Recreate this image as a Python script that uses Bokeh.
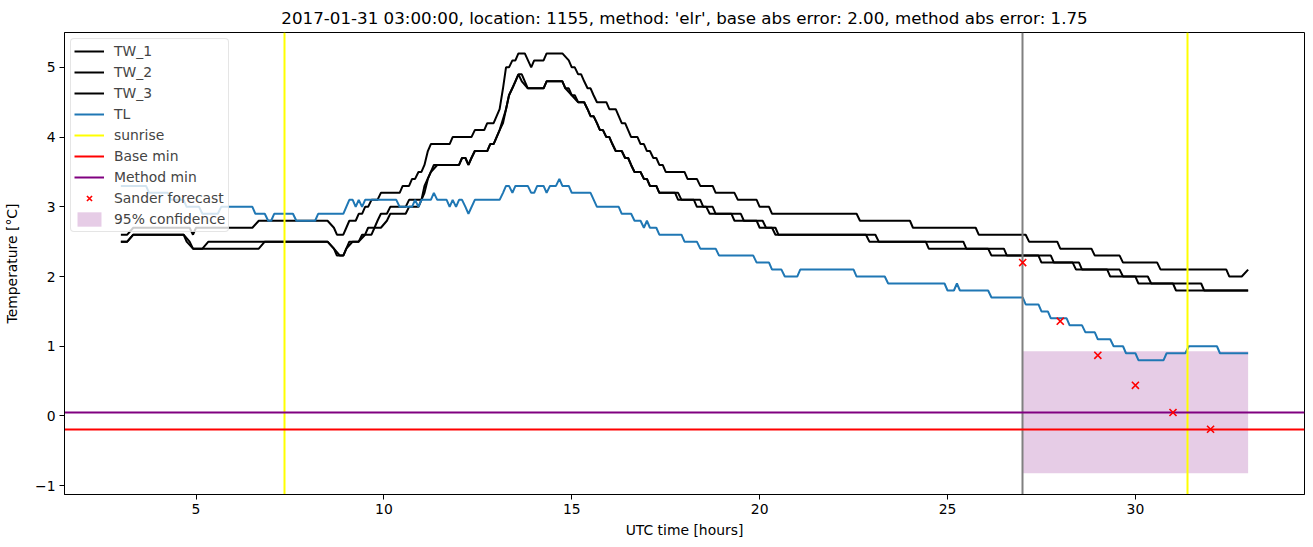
from bokeh.plotting import figure
from bokeh.models import Legend, LegendItem, FixedTicker, Range1d
from bokeh.embed import file_html
from bokeh.resources import INLINE

TITLE = "2017-01-31 03:00:00, location: 1155, method: 'elr', base abs error: 2.00, method abs error: 1.75"

# (hour, temperature) corner points of each series
tw1 = [(3.0,2.6),(3.17,2.6),(3.33,2.7),(4.83,2.7),(4.92,2.6),(5.0,2.7),(6.5,2.7),(6.67,2.8),(8.5,2.8),(8.67,2.7),
       (8.75,2.6),(8.92,2.6),(9.0,2.7),(9.08,2.8),(9.25,2.8),(9.33,2.9),(9.42,2.9),(9.5,3.0),(9.58,3.0),(9.67,3.1),
       (9.83,3.1),(9.92,3.2),(10.42,3.2),(10.5,3.3),(10.67,3.3),(10.75,3.4),(10.83,3.4),(10.92,3.5),(11.0,3.5),(11.08,3.6),
       (11.17,3.8),(11.25,3.9),(11.75,3.9),(11.83,4.0),(12.33,4.0),(12.42,4.1),(12.67,4.1),(12.75,4.2),(12.92,4.2),(13.0,4.3),
       (13.08,4.4),(13.17,4.7),(13.25,5.0),(13.33,5.0),(13.42,5.1),(13.5,5.1),(13.58,5.2),(13.75,5.2),(13.92,5.0),(14.0,5.1),
       (14.25,5.1),(14.33,5.2),(14.75,5.2),(14.92,5.1),(15.0,5.0),(15.08,5.0),(15.17,4.9),(15.25,4.9),(15.33,4.8),(15.42,4.7),
       (15.5,4.7),(15.58,4.6),(15.67,4.5),(15.92,4.5),(16.0,4.4),(16.17,4.4),(16.25,4.3),(16.33,4.2),(16.42,4.2),(16.5,4.1),
       (16.58,4.0),(16.75,4.0),(16.83,3.9),(16.92,3.9),(17.0,3.8),(17.08,3.8),(17.17,3.7),(17.25,3.7),(17.33,3.6),(17.42,3.6),
       (17.5,3.5),(18.0,3.5),(18.08,3.4),(18.33,3.4),(18.42,3.3),(18.75,3.3),(18.83,3.2),(19.33,3.2),(19.42,3.1),(19.92,3.1),
       (20.0,3.0),(20.25,3.0),(20.33,2.9),(22.58,2.9),(22.67,2.8),(24.0,2.8),(24.08,2.7),(25.75,2.7),(25.83,2.6),(27.08,2.6),
       (27.17,2.5),(27.92,2.5),(28.0,2.4),(28.83,2.4),(28.92,2.3),(29.58,2.3),(29.67,2.2),(30.58,2.2),(30.67,2.1),(32.42,2.1),
       (32.5,2.0),(32.83,2.0),(33.0,2.1)]

tw2 = [(3.0,2.5),(3.17,2.5),(3.33,2.6),(4.67,2.6),(4.83,2.5),(4.92,2.4),(5.17,2.4),(5.33,2.5),(8.5,2.5),(8.67,2.4),
       (8.75,2.3),(8.92,2.3),(9.0,2.4),(9.08,2.5),(9.33,2.5),(9.42,2.6),(9.5,2.6),(9.58,2.7),(9.75,2.7),(9.83,2.8),
       (9.92,2.9),(10.08,2.9),(10.17,3.0),(10.58,3.0),(10.67,3.1),(11.0,3.1),(11.08,3.2),(11.17,3.4),(11.25,3.5),(11.33,3.6),
       (12.0,3.6),(12.08,3.7),(12.17,3.7),(12.25,3.6),(12.33,3.7),(12.42,3.8),(12.75,3.8),(12.83,3.9),(12.92,3.9),(13.0,4.0),
       (13.08,4.1),(13.25,4.4),(13.33,4.6),(13.42,4.7),(13.5,4.8),(13.58,4.9),(13.67,4.9),(13.75,4.8),(13.83,4.7),(14.25,4.7),
       (14.33,4.8),(14.75,4.8),(14.83,4.7),(15.0,4.6),(15.08,4.6),(15.17,4.5),(15.33,4.5),(15.42,4.4),(15.5,4.3),(15.58,4.3),
       (15.67,4.2),(15.75,4.1),(15.83,4.1),(15.92,4.0),(16.0,4.0),(16.08,3.9),(16.17,3.8),(16.33,3.8),(16.42,3.7),(16.5,3.7),
       (16.58,3.6),(16.67,3.5),(16.83,3.5),(16.92,3.4),(17.0,3.4),(17.08,3.3),(17.25,3.3),(17.33,3.2),(17.75,3.2),(17.83,3.1),
       (18.25,3.1),(18.33,3.0),(18.58,3.0),(18.67,2.9),(19.25,2.9),(19.33,2.8),(19.92,2.8),(20.0,2.7),(20.33,2.7),(20.42,2.6),
       (22.83,2.6),(22.92,2.5),(24.42,2.5),(24.5,2.4),(26.08,2.4),(26.17,2.3),(27.42,2.3),(27.5,2.2),(28.5,2.2),(28.58,2.1),
       (29.25,2.1),(29.33,2.0),(30.0,2.0),(30.08,1.9),(31.0,1.9),(31.08,1.8),(33.0,1.8)]

tw3 = [(3.0,2.5),(3.17,2.5),(3.33,2.6),(4.67,2.6),(4.75,2.5),(4.92,2.4),(6.67,2.4),(6.83,2.5),(8.5,2.5),(8.67,2.4),
       (8.83,2.3),(8.92,2.3),(9.0,2.4),(9.17,2.5),(9.33,2.5),(9.5,2.6),(9.67,2.6),(9.75,2.7),(9.92,2.7),(10.08,2.8),
       (10.17,2.9),(10.58,2.9),(10.67,3.0),(10.92,3.0),(11.0,3.1),(11.08,3.3),(11.25,3.5),(11.42,3.6),(12.0,3.6),(12.08,3.7),
       (12.17,3.7),(12.25,3.6),(12.33,3.7),(12.42,3.8),(12.75,3.8),(12.83,3.9),(12.92,3.9),(13.0,4.0),(13.08,4.1),(13.17,4.2),
       (13.25,4.4),(13.33,4.6),(13.5,4.8),(13.58,4.9),(13.67,4.8),(13.83,4.7),(14.25,4.7),(14.33,4.8),(14.75,4.8),(14.83,4.7),
       (14.92,4.7),(15.0,4.6),(15.17,4.5),(15.33,4.5),(15.42,4.4),(15.5,4.3),(15.58,4.3),(15.67,4.2),(15.75,4.1),(15.83,4.1),
       (15.92,4.0),(16.0,4.0),(16.08,3.9),(16.17,3.8),(16.33,3.8),(16.42,3.7),(16.5,3.7),(16.58,3.6),(16.67,3.5),(16.83,3.5),
       (16.92,3.4),(17.0,3.4),(17.08,3.3),(17.25,3.3),(17.33,3.2),(17.83,3.2),(17.92,3.1),(18.42,3.1),(18.5,3.0),(18.75,3.0),
       (18.83,2.9),(19.5,2.9),(19.58,2.8),(20.08,2.8),(20.17,2.7),(20.42,2.7),(20.5,2.6),(23.08,2.6),(23.17,2.5),(25.42,2.5),
       (25.5,2.4),(26.5,2.4),(26.58,2.3),(27.75,2.3),(27.83,2.2),(28.33,2.2),(28.42,2.1),(29.58,2.1),(29.67,2.0),(30.33,2.0),
       (30.42,1.9),(31.75,1.9),(31.83,1.8),(33.0,1.8)]

tl = [(3.0,3.3),(3.67,3.3),(3.75,3.2),(4.25,3.2),(4.33,3.1),(4.67,3.1),(4.75,3.0),(5.08,3.0),(5.17,2.9),(5.58,2.9),
      (5.67,3.0),(6.5,3.0),(6.58,2.9),(6.83,2.9),(6.92,2.8),(7.0,2.8),(7.08,2.9),(7.58,2.9),(7.67,2.8),(8.17,2.8),
      (8.25,2.9),(8.92,2.9),(9.0,3.0),(9.08,3.1),(9.17,3.1),(9.25,3.0),(9.33,3.1),(9.42,3.0),(9.5,3.1),(10.33,3.1),
      (10.42,3.0),(10.75,3.0),(10.83,3.1),(10.92,3.0),(11.0,3.1),(11.25,3.1),(11.33,3.2),(11.42,3.1),(11.67,3.1),(11.75,3.0),
      (11.83,3.1),(11.92,3.0),(12.0,3.1),(12.08,3.1),(12.17,3.0),(12.25,2.9),(12.42,3.1),(13.08,3.1),(13.17,3.2),(13.25,3.3),
      (13.33,3.3),(13.42,3.2),(13.5,3.3),(13.83,3.3),(13.92,3.2),(14.0,3.2),(14.08,3.3),(14.25,3.3),(14.33,3.2),(14.42,3.3),
      (14.58,3.3),(14.67,3.4),(14.75,3.3),(14.92,3.3),(15.0,3.2),(15.5,3.2),(15.67,3.0),(16.25,3.0),(16.33,2.9),(16.58,2.9),
      (16.67,2.8),(16.83,2.8),(16.92,2.7),(17.0,2.8),(17.08,2.7),(17.25,2.7),(17.33,2.6),(17.92,2.6),(18.0,2.5),(18.33,2.5),
      (18.42,2.4),(18.83,2.4),(18.92,2.3),(19.83,2.3),(19.92,2.2),(20.25,2.2),(20.33,2.1),(20.58,2.1),(20.67,2.0),(21.0,2.0),
      (21.08,2.1),(22.5,2.1),(22.58,2.0),(23.33,2.0),(23.42,1.9),(24.92,1.9),(25.0,1.8),(25.17,1.8),(25.25,1.9),(25.33,1.8),
      (26.08,1.8),(26.17,1.7),(27.0,1.7),(27.08,1.6),(27.42,1.6),(27.5,1.5),(27.67,1.5),(27.75,1.4),(28.17,1.4),(28.25,1.3),
      (28.58,1.3),(28.67,1.2),(28.92,1.2),(29.0,1.1),(29.33,1.1),(29.42,1.0),(29.67,1.0),(29.75,0.9),(30.0,0.9),(30.08,0.8),
      (30.75,0.8),(30.83,0.9),(31.33,0.9),(31.42,1.0),(32.17,1.0),(32.25,0.9),(33.0,0.9)]

sunrise_hours = [7.35, 31.38]
forecast_time = [27.0]
base_min = [-0.19]
method_min = [0.05]
sander_hours = [27, 28, 29, 30, 31, 32]
sander_values = [2.20, 1.36, 0.87, 0.44, 0.05, -0.19]
conf_left, conf_right = [27.0], [33.0]
conf_low, conf_high = [-0.82], [0.93]
x_ticks = [5, 10, 15, 20, 25, 30]
y_ticks = [-1, 0, 1, 2, 3, 4, 5]

FONT = "DejaVu Sans"

p = figure(width=1306, height=540, output_backend="svg", toolbar_location=None,
           x_range=Range1d(1.5, 34.5), y_range=Range1d(-1.126, 5.5),
           min_border_left=64, min_border_right=2, min_border_top=32, min_border_bottom=42)
p.title.text = TITLE
p.title.align = "center"
p.title.text_font = FONT
p.title.text_font_size = "16.7px"
p.title.text_font_style = "normal"
p.title.text_color = "black"
p.title.standoff = 9

p.xgrid.visible = False
p.ygrid.visible = False
p.outline_line_color = "black"
p.outline_line_alpha = 1
p.outline_line_width = 1
p.background_fill_color = "white"
p.border_fill_color = "white"

for ax in (p.xaxis[0], p.yaxis[0]):
    ax.major_tick_out = 5
    ax.major_tick_in = 0
    ax.minor_tick_out = 0
    ax.minor_tick_in = 0
    ax.axis_line_color = "black"
    ax.major_tick_line_color = "black"
    ax.major_label_text_font = FONT
    ax.major_label_text_font_size = "13.9px"
    ax.major_label_text_color = "black"
    ax.axis_label_text_font = FONT
    ax.axis_label_text_font_size = "13.9px"
    ax.axis_label_text_font_style = "normal"
    ax.axis_label_text_color = "black"
    ax.major_label_standoff = 4
p.xaxis.ticker = FixedTicker(ticks=x_ticks)
p.yaxis.ticker = FixedTicker(ticks=y_ticks)
p.xaxis.axis_label = "UTC time [hours]"
p.yaxis.axis_label = "Temperature [°C]"
p.xaxis.axis_label_standoff = 5
p.yaxis.axis_label_standoff = 12

r_conf = p.quad(left=conf_left, right=conf_right, bottom=conf_low, top=conf_high,
                fill_color="purple", fill_alpha=0.2, line_alpha=0)

def series(pts, color):
    xs = [a for a, b in pts]
    ys = [b for a, b in pts]
    return p.line(xs, ys, line_color=color, line_width=2)

r1 = series(tw1, "black")
r2 = series(tw2, "black")
r3 = series(tw3, "black")
r_tl = series(tl, "#1f77b4")

p.vspan(x=forecast_time, line_color="gray", line_width=2)
r_sun = p.vspan(x=sunrise_hours, line_color="yellow", line_width=2)
r_base = p.hspan(y=base_min, line_color="red", line_width=2)
r_meth = p.hspan(y=method_min, line_color="purple", line_width=2)
r_sander = p.scatter(sander_hours, sander_values, marker="x", size=10, line_color="red", line_width=1.6)

legend = Legend(items=[
    LegendItem(label="TW_1", renderers=[r1]),
    LegendItem(label="TW_2", renderers=[r2]),
    LegendItem(label="TW_3", renderers=[r3]),
    LegendItem(label="TL", renderers=[r_tl]),
    LegendItem(label="sunrise", renderers=[r_sun]),
    LegendItem(label="Base min", renderers=[r_base]),
    LegendItem(label="Method min", renderers=[r_meth]),
    LegendItem(label="Sander forecast", renderers=[r_sander]),
    LegendItem(label="95% confidence", renderers=[r_conf]),
], location="top_left")
legend.margin = 6
legend.padding = 3
legend.spacing = 3
legend.glyph_width = 30
legend.glyph_height = 18
legend.label_height = 18
legend.label_standoff = 10
legend.label_text_font = FONT
legend.label_text_font_size = "13.9px"
legend.border_line_color = "#cccccc"
legend.border_line_width = 1
legend.background_fill_alpha = 0.8
legend.border_radius = 4
p.add_layout(legend, "center")

open("out.html", "w").write(file_html(p, INLINE))
